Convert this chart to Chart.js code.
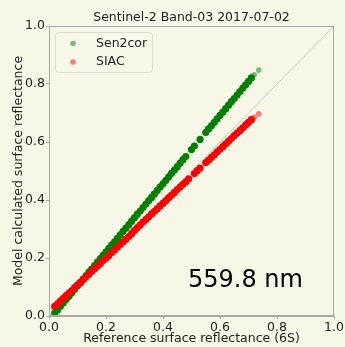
<!DOCTYPE html>
<html>
<head>
<meta charset="utf-8">
<script src="https://cdn.jsdelivr.net/npm/chart.js@4.4.1/dist/chart.umd.min.js"></script>
<style>
  html, body { margin: 0; padding: 0; background: #f7f7e8; }
  #wrap { width: 345px; height: 347px; }
</style>
</head>
<body>
<div id="wrap"><canvas id="chart"></canvas></div>
<script>
const titleText = "Sentinel-2 Band-03 2017-07-02";
const bandLabel = "559.8 nm";
const xTitle = "Reference surface reflectance (6S)";
const yTitle = "Model calculated surface reflectance";
const tickValues = [0.0, 0.2, 0.4, 0.6, 0.8, 1.0];

// Sen2cor points (a few gaps around 0.5)
const sen2corX = [0.02, 0.03, 0.04, 0.05, 0.06, 0.07, 0.08, 0.09, 0.10, 0.11, 0.12, 0.13, 0.14, 0.15, 0.16, 0.17, 0.18, 0.19,
  0.20, 0.21, 0.22, 0.23, 0.24, 0.25, 0.26, 0.27, 0.28, 0.29, 0.30, 0.31, 0.32, 0.33, 0.34, 0.35, 0.36, 0.37, 0.38, 0.39,
  0.40, 0.41, 0.42, 0.43, 0.44, 0.45, 0.46, 0.47, 0.48, 0.50, 0.51, 0.53, 0.55, 0.56, 0.57, 0.58, 0.59,
  0.60, 0.61, 0.62, 0.63, 0.64, 0.65, 0.66, 0.67, 0.68, 0.69, 0.70, 0.71, 0.72, 0.736];
const sen2corY = [0.010, 0.021, 0.033, 0.045, 0.057, 0.068, 0.080, 0.092, 0.104, 0.115, 0.127, 0.139, 0.151, 0.162, 0.174, 0.186, 0.198, 0.209,
  0.221, 0.233, 0.245, 0.256, 0.268, 0.280, 0.292, 0.303, 0.315, 0.327, 0.339, 0.351, 0.362, 0.374, 0.386, 0.398, 0.409, 0.421, 0.433, 0.445,
  0.456, 0.468, 0.480, 0.492, 0.503, 0.515, 0.527, 0.539, 0.550, 0.574, 0.586, 0.609, 0.633, 0.645, 0.656, 0.668, 0.680,
  0.692, 0.703, 0.715, 0.727, 0.739, 0.750, 0.762, 0.774, 0.786, 0.797, 0.809, 0.821, 0.832, 0.848];

// SIAC points
const siacX = [0.02, 0.03, 0.04, 0.05, 0.06, 0.07, 0.08, 0.09, 0.10, 0.11, 0.12, 0.13, 0.14, 0.15, 0.16, 0.17, 0.18, 0.19,
  0.20, 0.21, 0.22, 0.23, 0.24, 0.25, 0.26, 0.27, 0.28, 0.29, 0.30, 0.31, 0.32, 0.33, 0.34, 0.35, 0.36, 0.37, 0.38, 0.39,
  0.40, 0.41, 0.42, 0.43, 0.44, 0.45, 0.46, 0.47, 0.48, 0.49, 0.51, 0.52, 0.53, 0.55, 0.56, 0.57, 0.58, 0.59,
  0.60, 0.61, 0.62, 0.63, 0.64, 0.65, 0.66, 0.67, 0.68, 0.69, 0.70, 0.71, 0.72, 0.736];
const siacY = [0.033, 0.042, 0.051, 0.061, 0.070, 0.079, 0.088, 0.098, 0.107, 0.116, 0.126, 0.135, 0.144, 0.154, 0.163, 0.172, 0.181, 0.191,
  0.200, 0.209, 0.219, 0.228, 0.237, 0.247, 0.256, 0.265, 0.274, 0.284, 0.295, 0.305, 0.314, 0.324, 0.333, 0.342, 0.352, 0.361, 0.370, 0.380,
  0.389, 0.398, 0.408, 0.417, 0.426, 0.436, 0.445, 0.454, 0.463, 0.473, 0.491, 0.501, 0.510, 0.529, 0.538, 0.547, 0.556, 0.566,
  0.575, 0.584, 0.594, 0.603, 0.612, 0.622, 0.631, 0.640, 0.649, 0.659, 0.668, 0.677, 0.685, 0.697];

// 1:1 reference line
const oneToOneX = [0, 1];
const oneToOneY = [0, 1];

const toPoints = (xs, ys) => xs.map((x, i) => ({ x: x, y: ys[i] }));

const BG = "#f7f7e8";
const FONT = "DejaVu Sans";
const GREEN = [0, 128, 0];
const RED = [255, 0, 0];
const rgba = (c, a) => `rgba(${c[0]},${c[1]},${c[2]},${a})`;

// body of the cloud is dense (solid), the loose last points are light
const pointColor = (c) => (ctx) => {
  const n = ctx.dataset.data.length;
  return ctx.dataIndex >= n - 2 ? rgba(c, 0.5) : rgba(c, 1);
};
const pointSize = (ctx) => {
  const n = ctx.dataset.data.length;
  return ctx.dataIndex >= n - 2 ? 2.8 : 3.6;
};

const decorPlugin = {
  id: "decor",
  beforeDraw(chart) {
    const ctx = chart.ctx;
    ctx.save();
    ctx.fillStyle = BG;
    ctx.fillRect(0, 0, chart.width, chart.height);
    ctx.restore();
  },
  afterDraw(chart) {
    const ctx = chart.ctx;
    const a = chart.chartArea;
    ctx.save();

    // frame (top and right spines)
    ctx.strokeStyle = "#a8a8a8";
    ctx.lineWidth = 1;
    ctx.strokeRect(a.left + 0.5, a.top + 0.5, a.right - a.left - 1, a.bottom - a.top - 1);

    // title
    ctx.fillStyle = "#222";
    ctx.font = `12.5px "${FONT}"`;
    ctx.textAlign = "center";
    ctx.textBaseline = "middle";
    ctx.fillText(titleText, (a.left + a.right) / 2, 18);

    // legend box
    ctx.beginPath();
    ctx.roundRect(55.5, 32.5, 97, 40, 3);
    ctx.fillStyle = "rgba(247,247,232,0.8)";
    ctx.fill();
    ctx.strokeStyle = "#dcdcd0";
    ctx.stroke();
    const items = [
      { label: chart.data.datasets[1].label, c: GREEN, y: 43.5 },
      { label: chart.data.datasets[2].label, c: RED, y: 62 },
    ];
    items.forEach((it) => {
      ctx.beginPath();
      ctx.arc(73, it.y, 2.8, 0, Math.PI * 2);
      ctx.fillStyle = rgba(it.c, 0.5);
      ctx.fill();
      ctx.fillStyle = "#222";
      ctx.textAlign = "left";
      ctx.textBaseline = "middle";
      ctx.font = `12.5px "${FONT}"`;
      ctx.fillText(it.label, 96, it.y);
    });

    // wavelength note
    ctx.fillStyle = "#000";
    ctx.font = `24px "${FONT}"`;
    ctx.textAlign = "left";
    ctx.textBaseline = "alphabetic";
    ctx.fillText(bandLabel, 188, 287);

    ctx.restore();
  },
};

const axisCommon = {
  type: "linear",
  min: 0,
  max: 1,
  afterBuildTicks: (scale) => {
    scale.ticks = tickValues.map((v) => ({ value: v }));
  },
  ticks: {
    color: "#222",
    font: { family: FONT, size: 12.5 },
    padding: 1,
    callback: (v) => Number(v).toFixed(1),
  },
  grid: {
    drawOnChartArea: false,
    tickLength: 3,
    tickColor: "#a8a8a8",
  },
  border: { color: "#a8a8a8" },
};

new Chart(document.getElementById("chart"), {
  type: "scatter",
  data: {
    datasets: [
      {
        label: "1:1",
        data: toPoints(oneToOneX, oneToOneY),
        showLine: true,
        borderColor: "#c8c8c8",
        borderWidth: 1,
        pointRadius: 0,
        order: 3,
      },
      {
        label: "Sen2cor",
        data: toPoints(sen2corX, sen2corY),
        backgroundColor: pointColor(GREEN),
        borderWidth: 0,
        pointRadius: pointSize,
        order: 2,
      },
      {
        label: "SIAC",
        data: toPoints(siacX, siacY),
        backgroundColor: pointColor(RED),
        borderWidth: 0,
        pointRadius: pointSize,
        order: 1,
      },
    ],
  },
  options: {
    responsive: true,
    maintainAspectRatio: false,
    animation: false,
    layout: { padding: { top: 26, right: 11, left: 0, bottom: 0 } },
    plugins: {
      legend: { display: false },
      tooltip: { enabled: false },
    },
    scales: {
      x: {
        ...axisCommon,
        position: "bottom",
        afterFit: (scale) => { scale.height = 31; },
        title: {
          display: true,
          text: xTitle,
          color: "#222",
          font: { family: FONT, size: 12.5 },
          padding: { top: 0, bottom: 1 },
        },
      },
      y: {
        ...axisCommon,
        position: "left",
        afterFit: (scale) => { scale.width = 49; },
        title: {
          display: true,
          text: yTitle,
          color: "#222",
          font: { family: FONT, size: 12.5 },
          padding: { top: 11, bottom: 0 },
        },
      },
    },
  },
  plugins: [decorPlugin],
});
</script>
</body>
</html>
